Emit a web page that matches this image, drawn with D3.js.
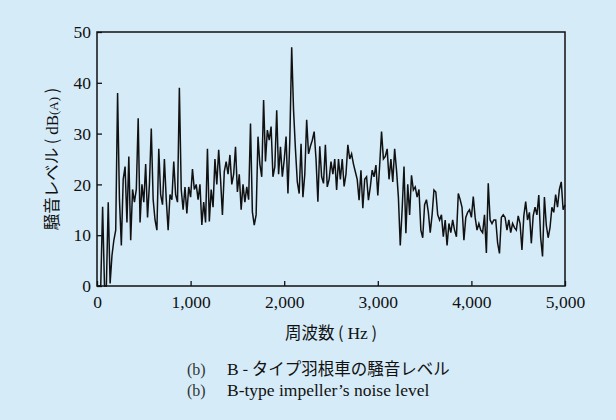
<!DOCTYPE html>
<html>
<head>
<meta charset="utf-8">
<script src="https://cdn.jsdelivr.net/npm/d3@7"></script>
<style>
  body { margin: 0; background: #d5ebf8; }
  svg { display: block; }
</style>
</head>
<body>
<svg id="chart" width="616" height="420"></svg>
<script>
const freqStep = 20;
const noiseLevels = [
  0, 0, 0, 15.6, 0, 0, 16.5, 0.5, 6, 9,
  11, 38, 17, 8, 21, 23.5, 12.5, 25.5, 9, 19,
  16.5, 19, 33, 12.5, 20, 16.5, 24, 13.5, 20, 31,
  17, 13, 11, 27, 18, 16, 25, 17, 11, 18,
  17, 24.5, 18, 16.5, 39, 19, 15, 19.5, 14.3, 19.5,
  17.5, 23, 19, 20, 17, 20, 12, 16.5, 12.5, 27,
  12.7, 19, 15.5, 25, 20, 26.8, 21, 14, 22.5, 24.5,
  22, 25.8, 20, 22, 27.4, 18.5, 22, 15, 20, 16.5,
  19.5, 17, 32, 14.6, 12, 14, 29.4, 24, 21.5, 36.6,
  24.5, 30.7, 28.7, 31.4, 21.5, 23.5, 34.6, 22, 27.4, 21.5,
  24.8, 29.4, 18.2, 28.7, 47, 34.6, 27, 20.5, 18.2, 28,
  17.5, 22, 32.7, 26, 27.5, 28.7, 30.4, 25, 16.6, 27.5,
  21.5, 20.2, 27.8, 19.5, 21, 24.5, 22, 25, 18.9, 25,
  21, 25, 19.6, 22, 27.8, 25, 26, 24, 22.5, 21,
  16.9, 22.8, 15.3, 21, 21.5, 16.9, 19.5, 22.8, 21.5, 23.8,
  17.8, 23.8, 30.4, 25, 25.5, 27, 21, 25, 20.5, 27,
  22.8, 17.5, 8, 15, 23.5, 10.4, 20, 14, 21.8, 18.9,
  19.5, 17.5, 19, 11, 9.5, 16, 17, 14.5, 10.5, 14,
  18.9, 18.5, 14, 13, 14, 9.7, 13, 8, 12.3, 10.5,
  13, 11, 9.7, 18.2, 17, 15.5, 9, 13.5, 14.5, 15,
  13.5, 17.6, 13.5, 11, 12.3, 11, 10.5, 14, 6.5, 20.2,
  13, 12.3, 13, 13, 8.5, 6.4, 13.5, 14, 13.5, 11,
  13, 10.5, 12.3, 11.5, 11, 13.8, 12.3, 7.1, 13.8, 16.6,
  13, 14.5, 8.4, 13.8, 15.5, 14, 17.9, 9.5, 5.8, 17.5,
  12, 9.5, 11.5, 15.5, 14.5, 18, 15.5, 19, 20.5, 15,
  16
];
const xTicks = [0, 1000, 2000, 3000, 4000, 5000];
const yTicks = [0, 10, 20, 30, 40, 50];
const captionJa = "B - タイプ羽根車の騒音レベル";
const captionEn = "B-type impeller’s noise level";

const serif = "'Liberation Serif', 'DejaVu Serif', serif";
const gothic = "'Noto Sans CJK JP', 'Noto Sans', sans-serif";

document.addEventListener("DOMContentLoaded", function () {
  drawChart();
});

function drawChart() {
  const svg = d3.select("#chart");
  const left = 97, right = 565, top = 32, bottom = 286;

  svg.append("rect")
    .attr("width", 616)
    .attr("height", 420)
    .attr("fill", "#d5ebf8");

  const x = d3.scaleLinear().domain([0, 5000]).range([left, right]);
  const y = d3.scaleLinear().domain([0, 50]).range([bottom, top]);

  const line = d3.line()
    .x((d, i) => x(i * freqStep))
    .y((d) => y(d));

  svg.append("path")
    .datum(noiseLevels)
    .attr("d", line)
    .attr("fill", "none")
    .attr("stroke", "#111")
    .attr("stroke-width", 1.5)
    .attr("stroke-linejoin", "miter");

  // axes: inward ticks, labels in serif
  svg.append("g")
    .attr("transform", `translate(0,${bottom})`)
    .call(d3.axisBottom(x).tickValues(xTicks).tickSizeInner(-5).tickSizeOuter(0)
      .tickPadding(10).tickFormat(d3.format(",")))
    .call((g) => g.select(".domain").remove())
    .call((g) => g.selectAll("line").attr("stroke", "#111").attr("stroke-width", 1.3))
    .call((g) => g.selectAll("text").attr("fill", "#111")
      .style("font-family", serif).style("font-size", "17.5px"));

  svg.append("g")
    .attr("transform", `translate(${left},0)`)
    .call(d3.axisLeft(y).tickValues(yTicks).tickSizeInner(-5).tickSizeOuter(0)
      .tickPadding(6))
    .call((g) => g.select(".domain").remove())
    .call((g) => g.selectAll("line").attr("stroke", "#111").attr("stroke-width", 1.3))
    .call((g) => g.selectAll("text").attr("fill", "#111")
      .style("font-family", serif).style("font-size", "17.5px"));

  svg.append("rect")
    .attr("x", left)
    .attr("y", top)
    .attr("width", right - left)
    .attr("height", bottom - top)
    .attr("fill", "none")
    .attr("stroke", "#111")
    .attr("stroke-width", 1.5);

  // x title
  const xt = svg.append("text")
    .attr("x", (left + right) / 2)
    .attr("y", 339)
    .attr("text-anchor", "middle")
    .attr("fill", "#111")
    .style("font-size", "16.5px");
  xt.append("tspan").style("font-family", gothic).text("周波数\u00a0(\u00a0");
  xt.append("tspan").style("font-family", serif).style("font-size", "17.5px").text("Hz");
  xt.append("tspan").style("font-family", gothic).text("\u00a0)");

  // y title
  const yt = svg.append("text")
    .attr("transform", `translate(58,${(top + bottom) / 2}) rotate(-90)`)
    .attr("text-anchor", "middle")
    .attr("fill", "#111")
    .style("font-size", "16.5px");
  yt.append("tspan").style("font-family", gothic).text("騒音レベル\u00a0(\u00a0");
  yt.append("tspan").style("font-family", serif).style("font-size", "17px").text("dB");
  yt.append("tspan").style("font-family", serif).style("font-size", "13px").text("(A)");
  yt.append("tspan").style("font-family", gothic).text("\u00a0)");

  // caption
  svg.append("text")
    .attr("x", 187).attr("y", 375)
    .attr("fill", "#333")
    .style("font-family", serif).style("font-size", "16px")
    .text("(b)");
  const c1 = svg.append("text")
    .attr("x", 227).attr("y", 375)
    .attr("fill", "#111")
    .style("font-size", "16.5px");
  c1.append("tspan").style("font-family", serif).style("font-size", "17.5px").text(captionJa.slice(0, 1));
  c1.append("tspan").style("font-family", gothic).text(captionJa.slice(1));

  svg.append("text")
    .attr("x", 187).attr("y", 396)
    .attr("fill", "#333")
    .style("font-family", serif).style("font-size", "16px")
    .text("(b)");
  svg.append("text")
    .attr("x", 227).attr("y", 396)
    .attr("fill", "#111")
    .style("font-family", serif).style("font-size", "17.5px")
    .text(captionEn);
}
</script>
</body>
</html>
